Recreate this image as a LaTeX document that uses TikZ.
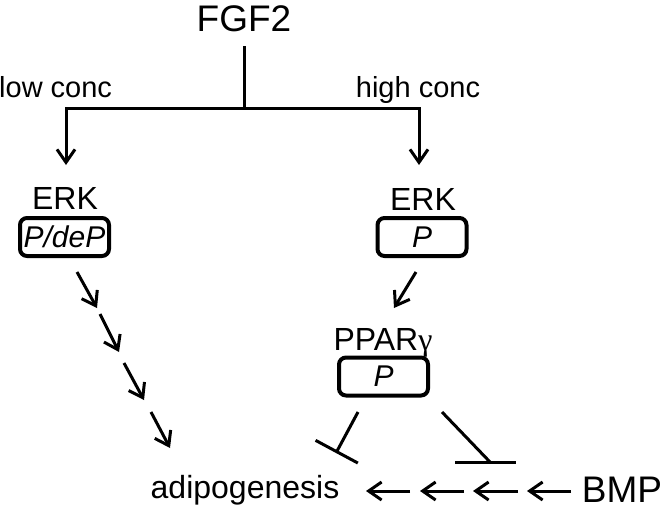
\documentclass[tikz,border=0pt]{standalone}
\usepackage{fontspec}
\setmainfont{Liberation Sans}
\newfontfamily\gfont{Liberation Serif}
\usetikzlibrary{arrows.meta}
\begin{document}
\begin{tikzpicture}[x=1pt,y=-1pt,
  lbl/.style={inner sep=0pt, anchor=base},
  big/.style={lbl, font=\fontsize{37}{40}\selectfont},
  mid/.style={lbl, font=\fontsize{32}{36}\selectfont},
  small/.style={lbl, font=\fontsize{29}{32}\selectfont},
  pbox/.style={draw, line width=4pt, rounded corners=7pt, minimum width=89pt,
    minimum height=38pt, inner sep=0pt, font=\fontsize{30}{32}\selectfont\itshape},
  conn/.style={line width=3pt, line join=miter},
  act/.style={conn, -{Straight Barb[length=13pt,width=18pt]}},
  inh/.style={conn, -{Bar[width=48pt]}}
]
\useasboundingbox (0,0) rectangle (663,509);

% texts
\node[big] (fgf) at (244,31) {FGF2};
\node[small, anchor=base west] (low) at (-1,97) {low conc};
\node[small] (high) at (418,97) {high conc};
\node[mid] (erkL) at (65,209) {ERK};
\node[mid] (erkR) at (423,210) {ERK};
\node[pbox] (boxL) at (64.5,237) {P/deP};
\node[pbox] (boxR) at (422,237) {P};
\node[mid] (ppar) at (383,350) {PPAR{\gfont γ}};
\node[pbox] (boxP) at (383.5,376.5) {P};
\node[mid] (adipo) at (245,498) {adipogenesis};
\node[big] (bmp) at (622,502) {BMP};

% coordinates
\coordinate (stem) at (244,46);
\coordinate (split) at (244,108);
\coordinate (ltip) at (66,165);
\coordinate (rtip) at (419,165);
\coordinate (c1) at (77,272);  \coordinate (c1e) at (97,308);
\coordinate (c2) at (100,314); \coordinate (c2e) at (119,352);
\coordinate (c3) at (124,363); \coordinate (c3e) at (144,400);
\coordinate (c4) at (151,412); \coordinate (c4e) at (170,448);
\coordinate (r1) at (416,272); \coordinate (r1e) at (394,308);
\coordinate (i1) at (358,412); \coordinate (i1e) at (336,453);
\coordinate (i2) at (442,412); \coordinate (i2e) at (490,462);
\coordinate (barL) at (455,462); \coordinate (barR) at (516,462);
\coordinate (b0) at (366,491); \coordinate (b1) at (410,491);
\coordinate (b2) at (420,491); \coordinate (b3) at (464,491);
\coordinate (b4) at (473,491); \coordinate (b5) at (518,491);
\coordinate (b6) at (527,491); \coordinate (b7) at (571,491);

% connectors
\draw[conn] (stem) -- (split);
\draw[act] (split) -| (ltip);
\draw[act] (split) -| (rtip);
\draw[act] (c1) -- (c1e);
\draw[act] (c2) -- (c2e);
\draw[act] (c3) -- (c3e);
\draw[act] (c4) -- (c4e);
\draw[act] (r1) -- (r1e);
\draw[inh] (i1) -- (i1e);
\draw[conn] (i2) -- (i2e);
\draw[conn] (barL) -- (barR);
\draw[act] (b1) -- (b0);
\draw[act] (b3) -- (b2);
\draw[act] (b5) -- (b4);
\draw[act] (b7) -- (b6);
\end{tikzpicture}
\end{document}
